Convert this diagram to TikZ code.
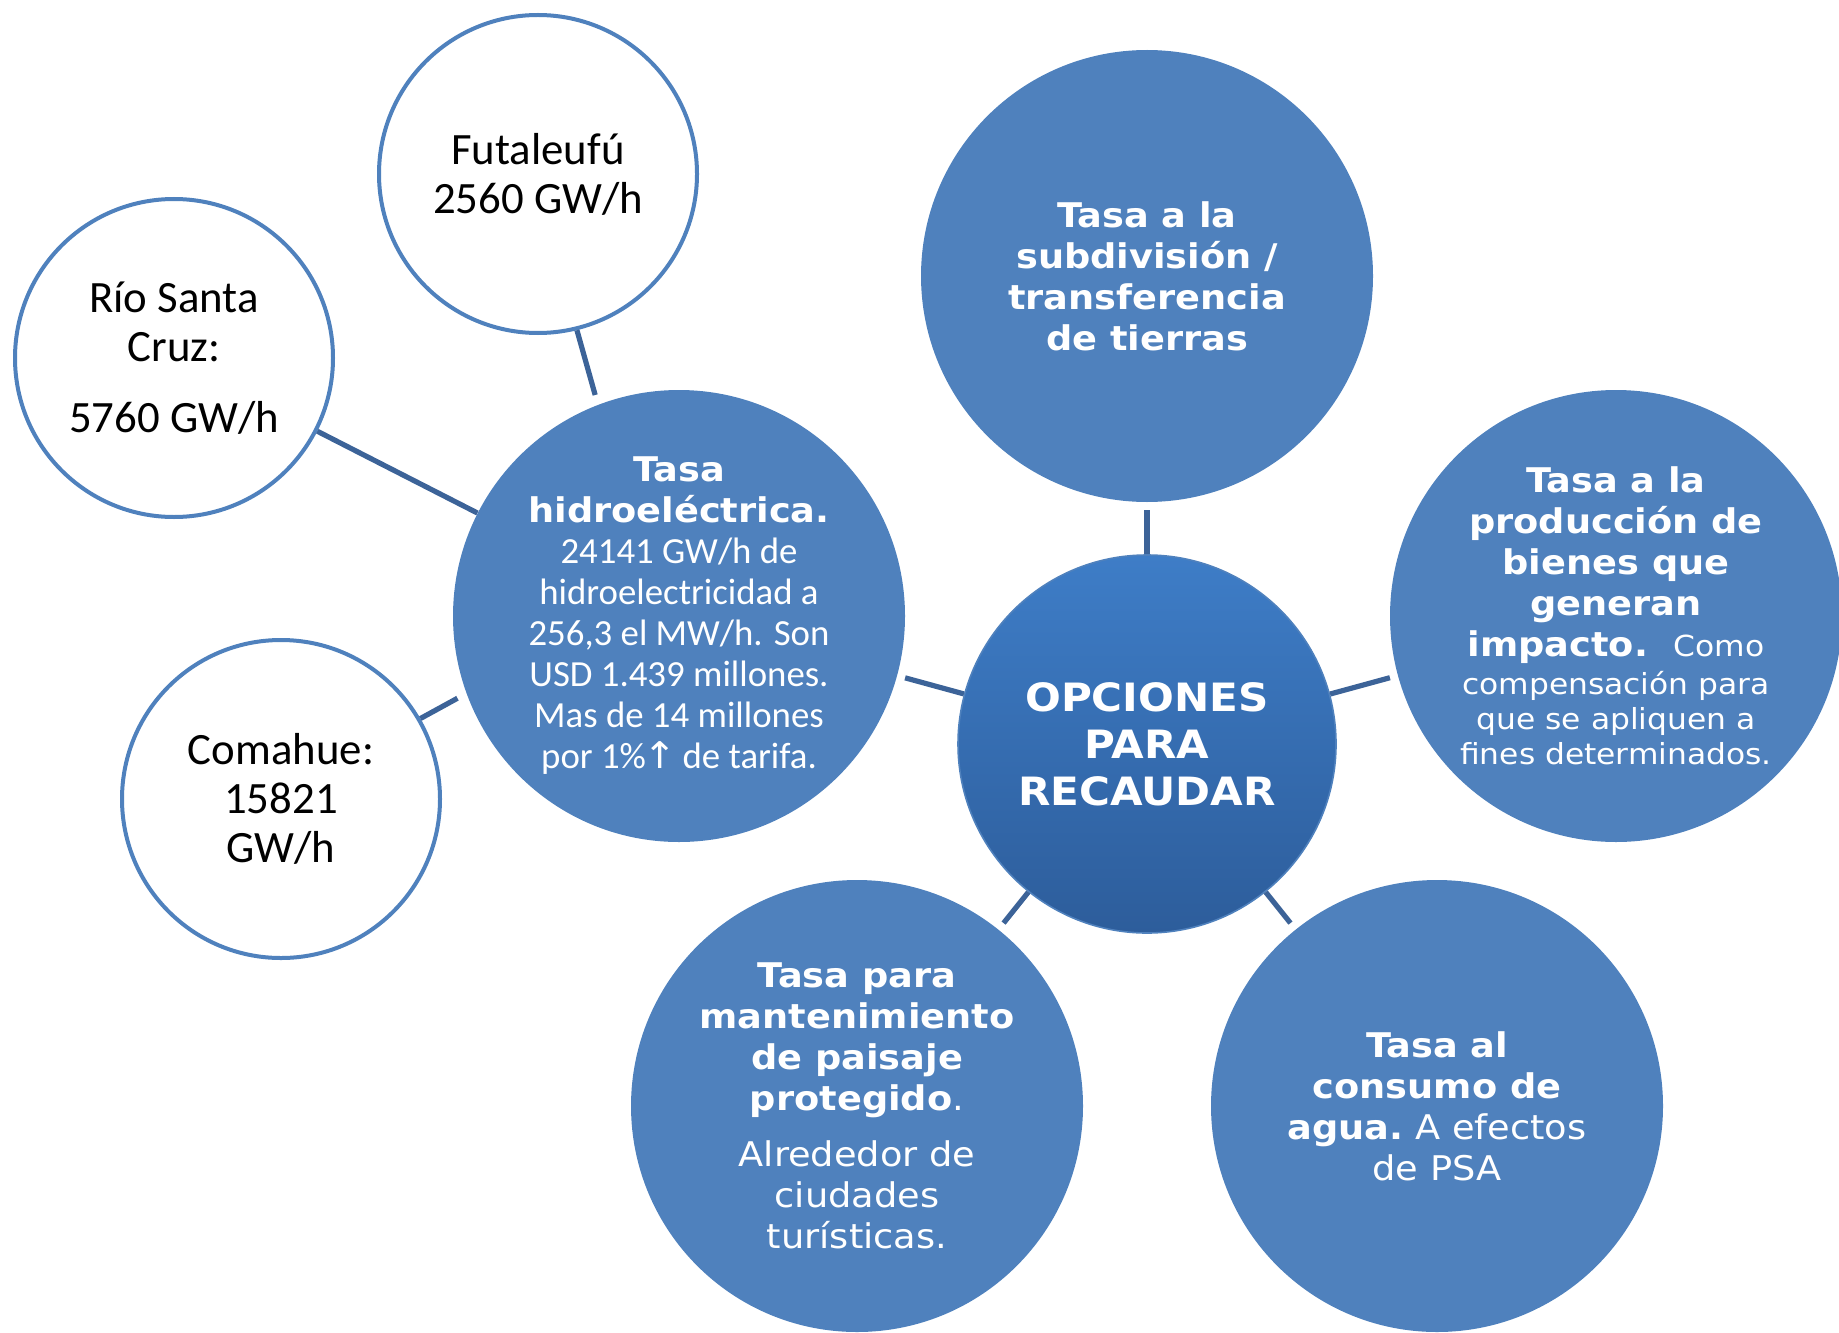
\documentclass[tikz,border=0pt]{standalone}
\usepackage{fontspec}
\usepackage{tikz}
\newfontfamily\verd[FakeStretch=1.08]{DejaVu Sans}
\newfontfamily\cali{Carlito}
\definecolor{bubblue}{RGB}{79,129,189}
\definecolor{linkblue}{RGB}{60,99,152}
\definecolor{hubtop}{RGB}{62,125,199}
\definecolor{hubbot}{RGB}{45,93,155}
\newcommand\finetxt{\mdseries\fontsize{14.5}{17.5}\selectfont}
\newcommand\hidrotxt{\cali\mdseries\fontsize{18.4}{20.5}\selectfont}

\begin{document}
\begin{tikzpicture}[x=0.5pt,y=0.5pt,yscale=-1,xscale=1,
  bubble/.style={circle,fill=bubblue,inner sep=0pt,minimum size=226pt,text=white,align=center,font=\verd\bfseries\fontsize{17}{20.5}\selectfont},
  plant/.style={circle,draw=bubblue,line width=2pt,fill=white,inner sep=0pt,minimum size=159pt,align=center,font=\cali\fontsize{22.4}{24.6}\selectfont},
  hub/.style={circle,draw=bubblue,line width=0.8pt,top color=hubtop,bottom color=hubbot,inner sep=0pt,minimum size=189pt,text=white,align=center,font=\verd\bfseries\fontsize{19.5}{23.5}\selectfont},
  link/.style={draw=linkblue,line width=2.6pt}]
\useasboundingbox (0,0) rectangle (1839,1332);

%Shape: Circle
\draw (1147,744) node [hub] (opc) {OPCIONES\\PARA\\RECAUDAR};
%Shape: Circle
\draw (1147,276) node [bubble] (tierras) {Tasa a la\\subdivisión /\\transferencia\\de tierras};
%Shape: Circle
\draw (1616,616) node [bubble] (bienes) {Tasa a la\\producción de\\bienes que\\generan\\impacto.\ \ {\finetxt Como}\\[-1.7pt]\finetxt compensación para\\[-2.9pt]\finetxt que se apliquen a\\[-2.9pt]\finetxt fines determinados.};
%Shape: Circle
\draw (1437,1106) node [bubble] (agua) {Tasa al\\consumo de\\agua.{\mdseries\ A efectos}\\\mdseries de PSA};
%Shape: Circle
\draw (857,1106) node [bubble] (paisaje) {Tasa para\\mantenimiento\\de paisaje\\protegido{\mdseries .}\\[7.6pt]\mdseries Alrededor de\\\mdseries ciudades\\\mdseries turísticas.};
%Shape: Circle
\draw (679,616) node [bubble] (hidro) {Tasa\\hidroeléctrica.\\\hidrotxt 24141 GW/h de\\\hidrotxt hidroelectricidad a\\\hidrotxt 256,3 el MW/h. Son\\\hidrotxt USD 1.439 millones.\\\hidrotxt Mas de 14 millones\\\hidrotxt por 1\%\kern-1.5pt{\verd ↑}\kern-1pt{} de tarifa.};

%Shape: Circle
\draw (538,174) node [plant] (futa) {Futaleufú\\2560 GW/h};
%Shape: Circle
\draw (174,358) node [plant] (rio) {Río Santa\\Cruz:\\[10.5pt]5760 GW/h};
%Shape: Circle
\draw (281,799) node [plant] (comahue) {Comahue:\\15821\\GW/h};

%Straight Lines
\draw [link,shorten >=4pt] (opc) -- (tierras);
%Straight Lines
\draw [link,shorten >=4pt] (opc) -- (bienes);
%Straight Lines
\draw [link,shorten >=4pt] (opc) -- (agua);
%Straight Lines
\draw [link,shorten >=4pt] (opc) -- (paisaje);
%Straight Lines
\draw [link,shorten >=4pt] (opc) -- (hidro);
%Straight Lines
\draw [link,shorten >=5pt] (futa.-76) -- (hidro.111);
%Straight Lines
\draw [link] (hidro) -- (rio);
%Straight Lines
\draw [link,shorten >=5pt] (comahue.30) -- (hidro.200);

\end{tikzpicture}
\end{document}
